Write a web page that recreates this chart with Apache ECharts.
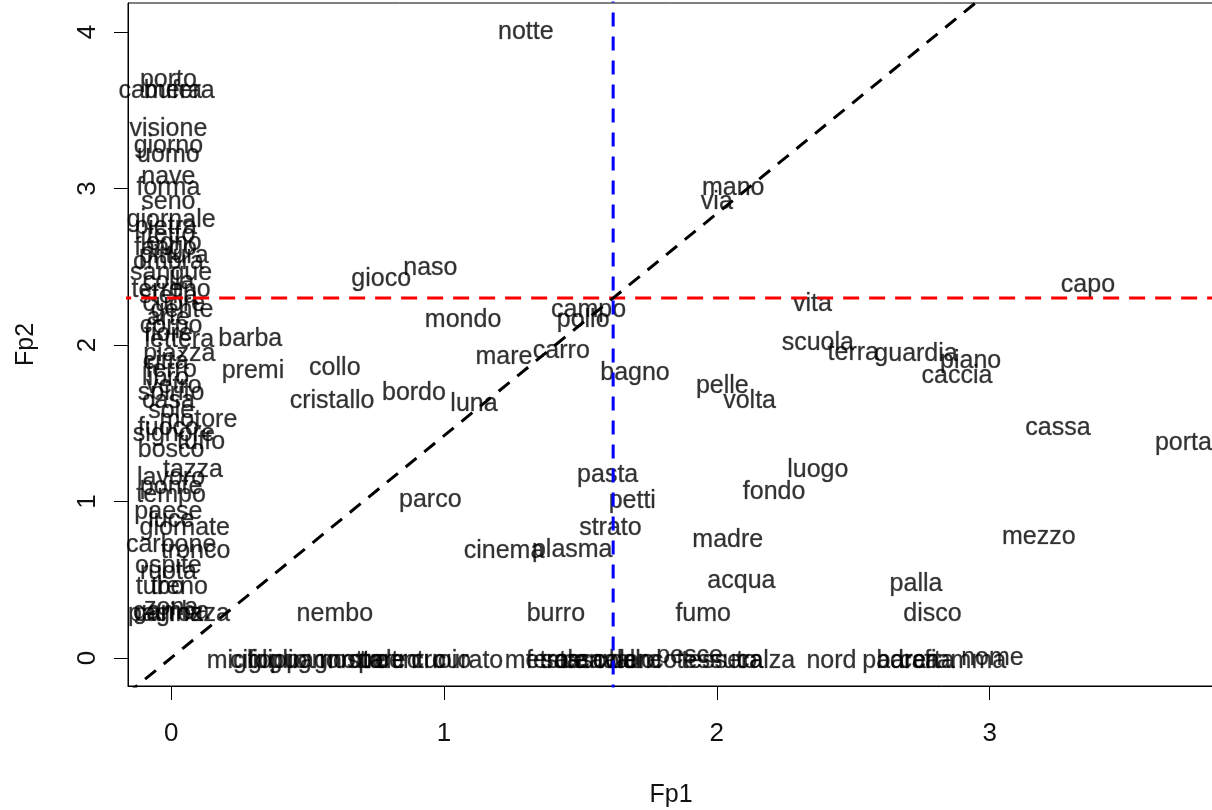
<!DOCTYPE html>
<html>
<head>
<meta charset="utf-8">
<script src="https://cdn.jsdelivr.net/npm/echarts@6/dist/echarts.min.js"></script>
<style>
  html, body { margin: 0; padding: 0; background: #fff; }
  #chart { width: 1212px; height: 810px; }
</style>
</head>
<body>
<div id="chart"></div>
<script>
// Word map on the first two factorial planes (Fp1, Fp2)
const words = [
  // column of words near Fp1 = 0
  'porto', 'camera', 'bufera', 'visione', 'giorno', 'uomo', 'nave', 'forma', 'seno',
  'giornale', 'pietra', 'tetto', 'legno', 'fango', 'pittura', 'ombra', 'sangue', 'colla',
  'terreno', 'stella', 'cuore', 'gente', 'arte', 'corpo', 'fiore', 'lettera', 'piazza',
  'città', 'ferro', 'libro', 'vetro', 'spirito', 'casa', 'sole', 'motore', 'fuoco',
  'signore', 'tuffo', 'bosco', 'tazza', 'lavoro', 'ponte', 'tempo', 'paese', 'luce',
  'giornate', 'carbone', 'tronco', 'ospite', 'ruota', 'treno', 'tubo', 'zona', 'pagina',
  'carrozza', 'gamba',
  // spread words
  'notte', 'barba', 'premi', 'collo', 'cristallo', 'bordo', 'luna', 'gioco', 'naso',
  'mondo', 'mare', 'carro', 'campo', 'pollo', 'bagno', 'mano', 'via', 'vita', 'scuola',
  'terra', 'guardia', 'piano', 'caccia', 'pelle', 'volta', 'capo', 'cassa', 'porta',
  'luogo', 'fondo', 'pasta', 'petti', 'strato', 'parco', 'cinema', 'plasma', 'madre',
  'mezzo', 'acqua', 'palla', 'burro', 'fumo', 'disco', 'nembo',
  // row of words near Fp2 = 0
  'miglio', 'ciglio', 'foglio', 'pugno', 'pagnotta', 'nostro', 'rotore', 'peltro',
  'centro', 'cuoio', 'curato', 'metro', 'festa', 'sale', 'osso', 'canale', 'cavallo',
  'colore', 'banco', 'pesce', 'tessuto', 'tessera', 'calza', 'nord', 'padre', 'barca',
  'carta', 'fiamma', 'nome'
];

const fp1 = [
  -0.01, -0.04, 0.03, -0.01, -0.01, -0.01, -0.01, -0.01, -0.01,
  0.00, -0.02, 0.00, 0.00, -0.02, 0.01, -0.01, 0.00, -0.01,
  0.00, -0.01, 0.01, 0.04, -0.01, 0.00, -0.01, 0.03, 0.03,
  -0.02, 0.00, -0.02, 0.01, 0.00, -0.01, 0.00, 0.10, -0.01,
  0.01, 0.11, 0.00, 0.08, 0.00, 0.00, 0.00, -0.01, 0.00,
  0.05, 0.00, 0.09, -0.01, -0.01, 0.03, -0.04, 0.00, -0.02,
  0.04, 0.00,
  1.30, 0.29, 0.30, 0.60, 0.59, 0.89, 1.11, 0.77, 0.95,
  1.07, 1.22, 1.43, 1.53, 1.51, 1.70, 2.06, 2.00, 2.35, 2.37,
  2.50, 2.73, 2.93, 2.88, 2.02, 2.12, 3.36, 3.25, 3.71,
  2.37, 2.21, 1.60, 1.69, 1.61, 0.95, 1.22, 1.47, 2.04,
  3.18, 2.09, 2.73, 1.41, 1.95, 2.79, 0.60,
  0.25, 0.32, 0.39, 0.49, 0.60, 0.67, 0.74, 0.80,
  0.88, 0.99, 1.09, 1.34, 1.40, 1.44, 1.50, 1.57, 1.63,
  1.67, 1.73, 1.90, 2.00, 2.02, 2.18, 2.42, 2.65, 2.70,
  2.77, 2.91, 3.01
];

const fp2 = [
  3.69, 3.62, 3.62, 3.38, 3.27, 3.21, 3.07, 3.00, 2.91,
  2.80, 2.75, 2.70, 2.65, 2.62, 2.57, 2.53, 2.46, 2.40,
  2.35, 2.31, 2.26, 2.22, 2.17, 2.12, 2.07, 2.03, 1.94,
  1.89, 1.84, 1.79, 1.74, 1.69, 1.64, 1.58, 1.52, 1.47,
  1.43, 1.38, 1.33, 1.20, 1.15, 1.09, 1.04, 0.93, 0.88,
  0.83, 0.72, 0.68, 0.59, 0.55, 0.45, 0.45, 0.32, 0.28,
  0.28, 0.29,
  4.00, 2.04, 1.83, 1.85, 1.64, 1.69, 1.62, 2.42, 2.49,
  2.16, 1.92, 1.96, 2.22, 2.16, 1.82, 3.00, 2.91, 2.26, 2.01,
  1.95, 1.94, 1.90, 1.80, 1.74, 1.64, 2.38, 1.47, 1.37,
  1.20, 1.06, 1.17, 1.00, 0.83, 1.01, 0.68, 0.69, 0.75,
  0.77, 0.49, 0.47, 0.28, 0.28, 0.28, 0.28,
  -0.02, -0.02, -0.02, -0.02, -0.02, -0.02, -0.02, -0.02,
  -0.02, -0.02, -0.02, -0.02, -0.02, -0.02, -0.02, -0.02, -0.02,
  -0.02, -0.02, 0.01, -0.02, -0.02, -0.02, -0.02, -0.02, -0.02,
  -0.02, -0.02, 0.00
];

// Axis ticks
const xTicks = [0, 1, 2, 3];
const yTicks = [0, 1, 2, 3, 4];

// Reference lines: mean thresholds and the diagonal through them
const refFp1 = 1.62;
const refFp2 = 2.3;
const diagSlope = refFp2 / refFp1;

const xMin = -0.158, xMax = 3.822;
const yMin = -0.179, yMax = 4.185;

const pts = words.map((w, i) => ({ name: w, value: [fp1[i], fp2[i]] }));

const chart = echarts.init(document.getElementById('chart'), null, { renderer: 'canvas' });

const tickFont = "'Liberation Sans Narrow', 'Liberation Sans', Arial, sans-serif";

chart.setOption({
  animation: false,
  backgroundColor: '#ffffff',
  grid: {
    left: 128, top: 3, right: -2, bottom: 124,
    outerBoundsMode: 'none',
    containLabel: false,
    show: true, borderColor: '#000', borderWidth: 1, backgroundColor: 'transparent'
  },
  xAxis: {
    type: 'value', min: xMin, max: xMax,
    name: 'Fp1', nameLocation: 'middle', nameGap: 97,
    nameTextStyle: { fontFamily: tickFont, fontSize: 25, color: '#111' },
    axisLine: { show: true, onZero: false, lineStyle: { color: '#000', width: 1 } },
    axisTick: { show: true, length: 14, customValues: xTicks, lineStyle: { color: '#000', width: 1 } },
    axisLabel: {
      customValues: xTicks, margin: 35, fontSize: 26, fontFamily: tickFont, color: '#111',
      formatter: v => String(v)
    },
    splitLine: { show: false }
  },
  yAxis: {
    type: 'value', min: yMin, max: yMax,
    name: 'Fp2', nameLocation: 'middle', nameGap: 89, nameRotate: 90,
    nameTextStyle: { fontFamily: tickFont, fontSize: 25, color: '#111' },
    axisLine: { show: true, onZero: false, lineStyle: { color: '#000', width: 1 } },
    axisTick: { show: true, length: 14, customValues: yTicks, lineStyle: { color: '#000', width: 1 } },
    axisLabel: {
      customValues: yTicks, margin: 27, rotate: 90, fontSize: 26, fontFamily: tickFont, color: '#111',
      formatter: v => String(v)
    },
    splitLine: { show: false }
  },
  series: [
    {
      type: 'scatter',
      data: pts,
      symbol: 'circle',
      symbolSize: 1,
      itemStyle: { color: 'rgba(0,0,0,0)' },
      silent: true,
      z: 2,
      label: {
        show: true,
        position: 'inside',
        formatter: '{b}',
        fontFamily: "'Liberation Sans', Arial, sans-serif",
        fontSize: 25,
        color: '#000',
        textBorderColor: 'rgba(0,0,0,0.45)',
        textBorderWidth: 0.6
      },
      labelLayout: { hideOverlap: false }
    },
    {
      type: 'line',
      data: [[xMin - 1, refFp2], [xMax + 1, refFp2]],
      symbol: 'none', silent: true, z: 5,
      lineStyle: { color: '#ff0000', width: 3, type: [16, 10] }
    },
    {
      type: 'line',
      data: [[refFp1, yMin - 1], [refFp1, yMax + 1]],
      symbol: 'none', silent: true, z: 5,
      lineStyle: { color: '#0000ff', width: 3, type: [14, 10] }
    },
    {
      type: 'line',
      data: [[-0.3, -0.3 * diagSlope], [3.2, 3.2 * diagSlope]],
      symbol: 'none', silent: true, z: 5,
      lineStyle: { color: '#000000', width: 3, type: [14, 10] }
    }
  ]
});
</script>
</body>
</html>
